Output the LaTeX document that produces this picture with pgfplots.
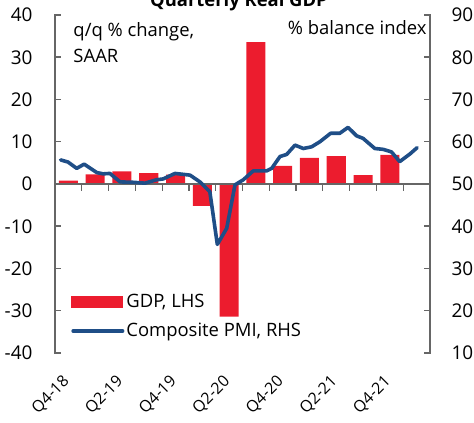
\documentclass[border=0pt]{standalone}
\usepackage{fontspec}
\setmainfont{Open Sans}
\usepackage{pgfplots}
\pgfplotsset{compat=1.18}
\definecolor{gdpred}{HTML}{EC1C2E}
\definecolor{pmiblue}{HTML}{1F4E87}
\definecolor{axgray}{HTML}{666666}
\begin{document}
\begin{tikzpicture}[font=\fontsize{18.5}{21}\selectfont]
\pgfplotsset{
  every axis/.append style={
    scale only axis, width=375bp, height=338bp,
    xmin=-0.5, xmax=13.5,
    /pgf/number format/assume math mode=true,
    yticklabel style={font=\fontsize{19}{21}\selectfont},
    major tick length=0bp,
  }
}
\begin{axis}[
  name=ax,
  ymin=-40, ymax=40, ytick={-40,-30,...,40},
  axis y line*=left,
  axis x line*=bottom,
  x axis line style={draw=none},
  y axis line style={draw=none},
  xtick={0,2,4,6,8,10,12},
  xticklabels={Q4-18,Q2-19,Q4-19,Q2-20,Q4-20,Q2-21,Q4-21},
  xtick style={draw=none},
  ytick style={draw=none},
  xticklabel style={font=\fontsize{16}{18}\selectfont, inner sep=0pt,
    yshift=-26bp, xshift=-1.5bp, rotate=45, anchor=east},
  yticklabel style={xshift=-19bp},
]
\addplot[ybar, bar width=0.71, fill=gdpred, draw=none] coordinates {
(0,0.8) (1,2.3) (2,3.0) (3,2.6) (4,2.2) (5,-5.2) (6,-31.4) (7,33.6)
(8,4.3) (9,6.2) (10,6.6) (11,2.1) (12,6.9)};
\draw[axgray, line width=1.4bp] (axis cs:-0.5,0) -- (axis cs:13.5,0);
\pgfplotsinvokeforeach{0.5,1.5,2.5,3.5,4.5,5.5,6.5,7.5,8.5,9.5,10.5,11.5,12.5}{
  \draw[axgray, line width=1.2bp] (axis cs:#1,0) -- ([yshift=-7bp]axis cs:#1,0);
}
\node[anchor=base west, inner sep=0pt] at ([xshift=18.3bp, yshift=-21.7bp]rel axis cs:0,1) {q/q \% change,};
\node[anchor=base west, inner sep=0pt] at ([xshift=18.3bp, yshift=-47.7bp]rel axis cs:0,1) {SAAR};
\node[anchor=base east, inner sep=0pt] at ([xshift=-3.3bp, yshift=-19.3bp]rel axis cs:1,1) {\% balance index};
\end{axis}
\begin{axis}[
  ymin=10, ymax=90, ytick={10,20,...,90},
  axis y line*=right,
  axis x line=none,
  y axis line style={draw=none},
  ytick style={draw=none},
  yticklabel style={xshift=18bp},
  legend cell align=left,
  legend style={draw=none, fill=none, at={(rel axis cs:0.035,0.185)}, anchor=north west,
    row sep=10bp, font=\fontsize{18.5}{21}\selectfont},
]
\addlegendimage{legend image code/.code={\fill[gdpred] (0bp,-5.5bp) rectangle (51bp,5.5bp);}}
\addlegendentry{GDP, LHS}
\addplot[pmiblue, line width=3.6bp, line join=round, line cap=round,
  legend image code/.code={\draw[pmiblue, line width=3.6bp, line cap=round] (1.5bp,0) -- (51bp,0);}]
coordinates {
(-0.29,55.7) (-0.015,55.2) (0.31,53.7) (0.59,54.7) (1.06,52.7) (1.30,52.4) (1.55,52.5)
(1.93,50.5) (2.42,50.4) (2.86,50.2) (3.29,51.0) (3.54,51.2) (3.98,52.5) (4.54,52.1)
(4.91,50.5) (5.28,48.2) (5.56,35.7) (5.91,39.5) (6.22,49.8) (6.53,51.0) (6.90,53.1)
(7.40,53.1) (7.59,53.7) (7.90,56.5) (8.15,57.0) (8.46,59.2) (8.77,58.4) (9.08,58.8)
(9.39,60.0) (9.79,62.0) (10.13,62.0) (10.44,63.4) (10.76,61.4) (11.00,60.8) (11.44,58.4)
(11.75,58.2) (12.06,57.6) (12.37,55.3) (12.75,57.1) (13.02,58.6)};
\addlegendentry{Composite PMI, RHS}
\end{axis}
\draw[axgray, line width=1.5bp, line cap=rect] (ax.south west) -- (ax.north west);
\draw[axgray, line width=1.5bp, line cap=rect] (ax.south east) -- (ax.north east);
\foreach \i in {0,1,...,8} {
  \draw[axgray, line width=1.5bp] ([yshift=\i*42.25bp]ax.south west) -- ++(6bp,0);
  \draw[axgray, line width=1.5bp] ([yshift=\i*42.25bp]ax.south east) -- ++(-6bp,0);
}
\node[anchor=base, inner sep=0pt, font=\bfseries\fontsize{18.5}{21}\selectfont] at ([xshift=-3.5bp, yshift=8bp]ax.north) {Quarterly Real GDP};
\pgfresetboundingbox
\path[use as bounding box] ([xshift=-55bp,yshift=-70bp]ax.south west) rectangle ([xshift=44bp,yshift=15bp]ax.north east);
\end{tikzpicture}
\end{document}
